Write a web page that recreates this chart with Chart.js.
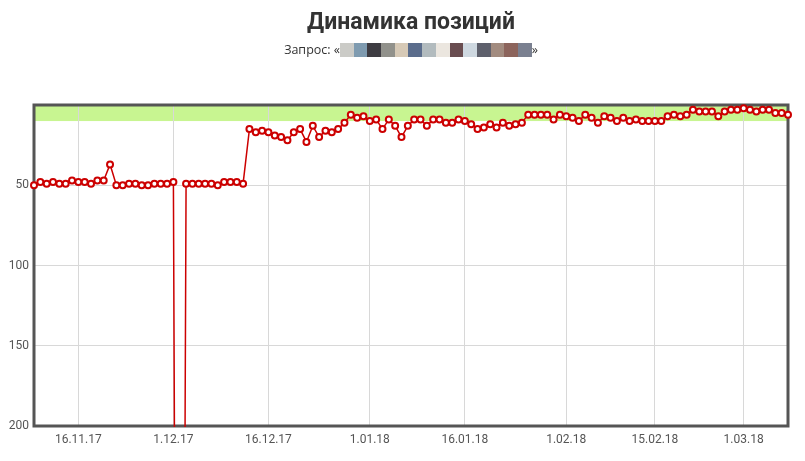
<!DOCTYPE html>
<html lang="ru">
<head>
<meta charset="utf-8">
<title>Динамика позиций</title>
<script src="https://cdn.jsdelivr.net/npm/chart.js@4.4.1/dist/chart.umd.min.js"></script>
<style>
  html, body { margin: 0; padding: 0; background: #fff; }
  #wrap { position: relative; width: 805px; height: 461px; overflow: hidden; }
  #head { position: absolute; left: 34px; width: 754px; top: 0; text-align: center; color: #333; font-family: "Open Sans", sans-serif; }
  #head h1 { margin: 6px 0 0; font-family: Roboto, sans-serif; font-size: 23px; font-weight: 700; line-height: 32px; }
  #head .query { margin-top: 4px; font-size: 12.5px; line-height: 16px; }
  #head .query i { display: inline-block; width: 13.7px; height: 13.7px; vertical-align: -3px; }
  canvas { position: absolute; left: 0; top: 0; }
</style>
</head>
<body>
<div id="wrap">
  <canvas id="posChart" width="805" height="461"></canvas>
  <div id="head">
    <h1>Динамика позиций</h1>
    <div class="query">Запрос: «<span id="blur"></span>»</div>
  </div>
</div>
<script>
// позиция по дням, начиная с 9.11.17 (1000 = нет в выдаче)
const positions = [
  50, 48, 49, 48, 49, 49, 47, 48, 48, 49,
  47, 47, 37, 50, 50, 49, 49, 50, 50, 49,
  49, 49, 48, 1000, 49, 49, 49, 49, 49, 50,
  48, 48, 48, 49, 15, 17, 16, 17, 19, 20,
  22, 17, 15, 23, 13, 20, 16, 17, 15, 11,
  6, 8, 7, 10, 9, 15, 9, 13, 20, 13,
  9, 9, 13, 9, 9, 11, 11, 9, 10, 12,
  15, 14, 12, 14, 11, 13, 12, 11, 6, 6,
  6, 6, 9, 6, 7, 8, 10, 6, 8, 11,
  7, 8, 10, 8, 10, 9, 10, 10, 10, 10,
  7, 6, 7, 6, 3, 4, 4, 4, 7, 4,
  3, 3, 2, 3, 4, 3, 3, 5, 5, 6
];
const tickDays = [7, 22, 37, 53, 68, 84, 98, 112];
const tickLabels = ['16.11.17', '1.12.17', '16.12.17', '1.01.18', '16.01.18', '1.02.18', '15.02.18', '1.03.18'];
const yTicks = [50, 100, 150, 200];
const topZone = [0, 10]; // зелёная полоса: топ-10

// запрос в исходнике замазан пикселями
const blurColors = ['#cbcbc7', '#7f9bb0', '#3e3c42', '#91918b', '#d6c9b6', '#5b6d8c', '#b2bbbe',
                    '#ebe6df', '#694d50', '#ced8e0', '#5e606c', '#a28b7f', '#8c645c', '#7a8090'];
document.getElementById('blur').innerHTML = blurColors.map(c => `<i style="background:${c}"></i>`).join('');

const frame = {
  id: 'frame',
  beforeDraw(chart) {
    const {ctx, chartArea: a, scales: {y}} = chart;
    ctx.save();
    ctx.fillStyle = '#c8f591';
    const y0 = y.getPixelForValue(topZone[0]), y1 = y.getPixelForValue(topZone[1]);
    ctx.fillRect(a.left, y0, a.right - a.left, y1 - y0);
    ctx.restore();
  },
  beforeDatasetsDraw(chart) {
    const {ctx, chartArea: a} = chart;
    ctx.save();
    ctx.strokeStyle = '#555';
    ctx.lineWidth = 3;
    ctx.strokeRect(a.left, a.top, a.right - a.left, a.bottom - a.top);
    ctx.restore();
  }
};

new Chart('posChart', {
  type: 'line',
  data: {
    datasets: [{
      data: positions.map((p, i) => ({x: i, y: p})),
      borderColor: '#cc0000',
      borderWidth: 1.5,
      tension: 0,
      pointRadius: 3,
      pointBorderWidth: 2,
      pointBackgroundColor: '#fff',
      pointBorderColor: '#cc0000',
      clip: {left: 6, top: 6, right: 6, bottom: 1}
    }]
  },
  plugins: [frame],
  options: {
    responsive: false,
    animation: false,
    layout: { padding: { top: 105, right: 17, left: 0, bottom: 0 } },
    plugins: { legend: { display: false }, tooltip: { enabled: false } },
    scales: {
      x: {
        type: 'linear',
        min: 0,
        max: positions.length - 1,
        afterBuildTicks: s => { s.ticks = tickDays.map(v => ({value: v})); },
        afterFit: s => { s.height = 35; },
        ticks: {
          autoSkip: false,
          maxRotation: 0,
          padding: 7,
          color: '#555',
          font: { family: 'Roboto', size: 12 },
          callback: (v, i) => tickLabels[i]
        },
        grid: { color: '#d8d8d8', drawTicks: false },
        border: { display: false }
      },
      y: {
        reverse: true,
        min: 0,
        max: 200,
        afterBuildTicks: s => { s.ticks = yTicks.map(v => ({value: v})); },
        afterFit: s => { s.width = 34; },
        ticks: {
          padding: 5,
          color: '#555',
          font: { family: 'Roboto', size: 12 }
        },
        grid: { color: '#d8d8d8', drawTicks: false },
        border: { display: false }
      }
    }
  }
});
</script>
</body>
</html>
